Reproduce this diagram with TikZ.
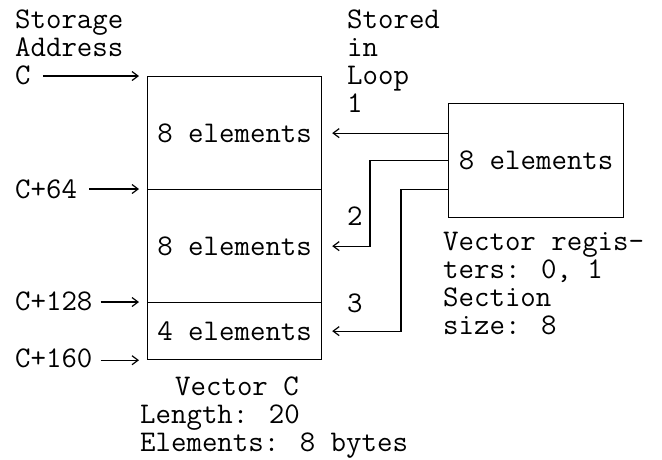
\documentclass[tikz,border=0pt]{standalone}
\usetikzlibrary{arrows.meta}
\begin{document}
\begin{tikzpicture}[x=1pt,y=-1pt,
  txt/.style={font=\fontsize{30}{28}\selectfont\ttfamily, inner sep=0pt, anchor=base west},
  seg/.style={draw, line width=1.2pt, minimum width=174pt, inner sep=0pt, anchor=north west,
              font=\fontsize{30}{28}\selectfont\ttfamily},
  arr/.style={-{Straight Barb[length=6pt,width=9pt]}, line width=1.2pt}]
\useasboundingbox (0,0) rectangle (662,459);
% vector C segments
\node[seg, minimum height=113pt] (s1) at (147,76) {8 elements};
\node[seg, minimum height=113pt] (s2) at (147,189) {8 elements};
\node[seg, minimum height=57pt]  (s3) at (147,302) {4 elements};
% register box
\node[seg, minimum width=175pt, minimum height=114pt] (reg) at (448,103) {8 elements};
% left labels
\node[txt] (lS)   at (15,28)  {Storage};
\node[txt] (lA)   at (15,56)  {Address};
\node[txt] (lC)   at (15,84)  {C};
\node[txt] (l64)  at (15,198) {C+64};
\node[txt] (l128) at (15,310) {C+128};
\node[txt] (l160) at (15,367) {C+160};
% address arrows
\coordinate (tC)   at ([xshift=-8pt]s1.north west);
\coordinate (t64)  at ([xshift=-8pt]s2.north west);
\coordinate (t128) at ([xshift=-8pt]s3.north west);
\coordinate (t160) at ([xshift=-8pt]s3.south west);
\draw[arr] ([xshift=12pt]lC.east |- tC) -- (tC);
\draw[arr] ([xshift=12pt]l64.east |- t64) -- (t64);
\draw[arr] ([xshift=8pt]l128.east |- t128) -- (t128);
\draw[arr] ([xshift=8pt]l160.east |- t160) -- (t160);
% right labels
\node[txt] (rS) at (347,28)  {Stored};
\node[txt] (rI) at (347,56)  {in};
\node[txt] (rL) at (347,84)  {Loop};
\node[txt] (n1) at (347,112) {1};
\node[txt] (n2) at (347,225) {2};
\node[txt] (n3) at (347,312) {3};
\node[txt] (v1) at (443,250) {Vector regis-};
\node[txt] (v2) at (443,278) {ters: 0, 1};
\node[txt] (v3) at (443,306) {Section};
\node[txt] (v4) at (443,334) {size: 8};
% bottom labels
\node[txt] (b1) at (175,395) {Vector C};
\node[txt] (b2) at (140,423) {Length: 20};
\node[txt] (b3) at (140,451) {Elements: 8 bytes};
% loop arrows
\draw[arr] (reg.west |- s1.east) -- ([xshift=10pt]s1.east);
\draw[arr] (reg.west) -- ++(-78,0) |- ([xshift=10pt]s2.east);
\draw[arr] ([yshift=-29pt]reg.west) -- ++(-47,0) |- ([xshift=10pt]s3.east);
\end{tikzpicture}
\end{document}
